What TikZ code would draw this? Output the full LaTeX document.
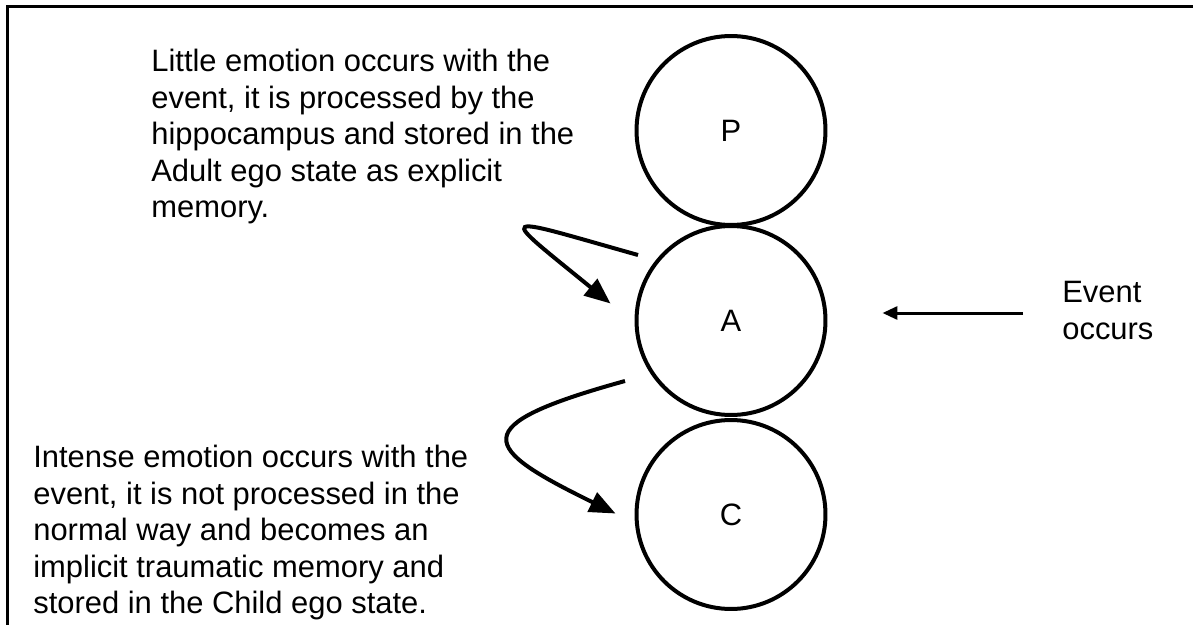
\documentclass[tikz,border=0pt]{standalone}
\usepackage{fontspec}
\setmainfont{Liberation Sans}
\usepackage{tikz}
\usetikzlibrary{arrows.meta,calc}

\begin{document}
\begin{tikzpicture}[
  x=0.02cm, y=-0.02cm,
  state/.style={draw, circle, line width=0.08cm, minimum size=3.78cm, inner sep=0pt, font=\fontsize{17.6}{20.8}\selectfont},
  note/.style={inner sep=0pt, align=left, anchor=north west, font=\fontsize{17.6}{20.8}\selectfont},
  memarrow/.style={line width=0.08cm, -{Triangle[length=0.52cm, width=0.42cm]}},
  evarrow/.style={line width=0.06cm, -{Triangle[length=0.3cm, width=0.26cm]}}
]
\useasboundingbox (0,0) rectangle (1193,625);
\draw[line width=0.06cm] (7.5,625) -- (7.5,6.5) -- (1193,6.5);

\node[state] (P) at (731,130.5) {P};
\node[state] (A) at (731,320.5) {A};
\node[state] (C) at (731,514.5) {C};

\node[note] (adultnote) at (151,49) {Little emotion occurs with the\\event, it is processed by the\\hippocampus and stored in the\\Adult ego state as explicit\\memory.};
\node[note] (childnote) at (33,445) {Intense emotion occurs with the\\event, it is not processed in the\\normal way and becomes an\\implicit traumatic memory and\\stored in the Child ego state.};
\node[note] (event) at (1062,281) {Event\\occurs};

\coordinate (toadult) at (638,255);
\coordinate (tochild) at (625,381);
\coordinate (evstart) at (1023,313);

\draw[memarrow] (toadult) .. controls (494,214.5) and (496,210) .. ($(A.west)+(-24,-17)$);
\draw[memarrow] (tochild) .. controls (462,426) and (482,448) .. ($(C.west)+(-19,-1)$);
\draw[evarrow, shorten >=1.1cm] (evstart) -- (evstart -| A.east);
\end{tikzpicture}
\end{document}
